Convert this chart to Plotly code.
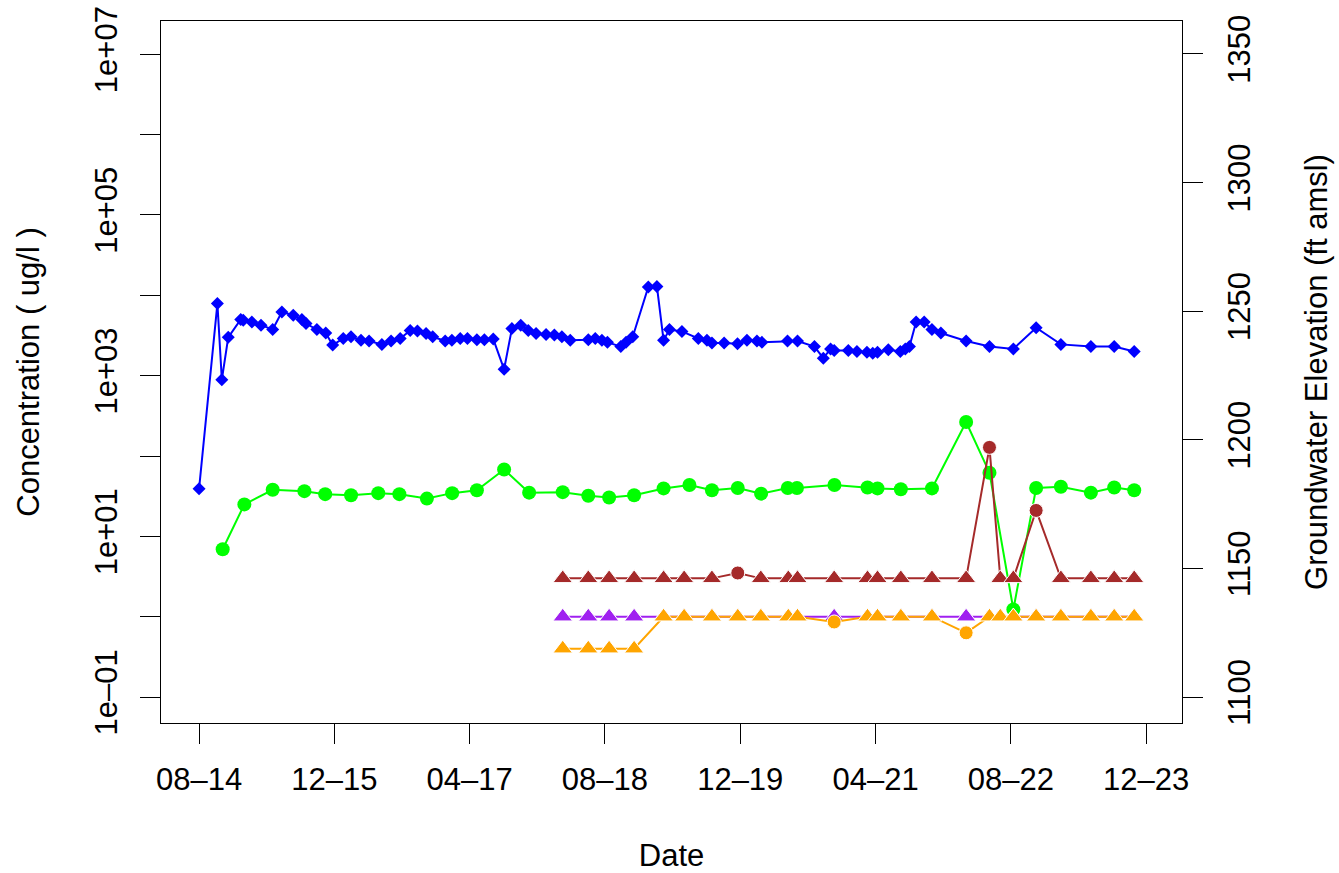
import plotly.graph_objects as go

# ---- sampling dates and concentrations (ug/l) ----
blue_dates = [
    "2014-08-01", "2014-10-06", "2014-10-22", "2014-11-14", "2014-12-29", "2015-01-07",
    "2015-02-07", "2015-03-12", "2015-04-23", "2015-05-26", "2015-07-06", "2015-08-06",
    "2015-08-21", "2015-09-29", "2015-10-31", "2015-11-25", "2016-01-02", "2016-01-30",
    "2016-03-06", "2016-04-04", "2016-05-20", "2016-06-22", "2016-07-25", "2016-08-30",
    "2016-09-25", "2016-10-26", "2016-11-19", "2017-01-03", "2017-01-27", "2017-02-26",
    "2017-03-24", "2017-04-27", "2017-05-24", "2017-06-25", "2017-08-03", "2017-08-31",
    "2017-10-02", "2017-10-29", "2017-11-26", "2018-01-01", "2018-01-31", "2018-02-27",
    "2018-03-29", "2018-06-02", "2018-06-27", "2018-07-21", "2018-08-10", "2018-09-27",
    "2018-10-16", "2018-11-09", "2019-01-04", "2019-02-04", "2019-02-28", "2019-03-21",
    "2019-05-05", "2019-07-03", "2019-08-03", "2019-08-21", "2019-10-04", "2019-11-21",
    "2019-12-25", "2020-01-30", "2020-02-17", "2020-05-19", "2020-06-24", "2020-08-24",
    "2020-09-25", "2020-10-21", "2020-11-03", "2020-12-24", "2021-01-24", "2021-03-01",
    "2021-03-22", "2021-04-08", "2021-05-17", "2021-06-29", "2021-07-17", "2021-08-01",
    "2021-08-25", "2021-09-23", "2021-10-21", "2021-11-22", "2022-02-21", "2022-05-16",
    "2022-08-10", "2022-10-31", "2023-01-28", "2023-05-16", "2023-08-08", "2023-10-19",
]
blue_values = [
    39, 7900, 890, 3000, 5000, 4900,
    4650, 4250, 3750, 6200, 5650, 5000,
    4450, 3750, 3400, 2400, 2900, 3050,
    2750, 2700, 2450, 2700, 2900, 3650,
    3600, 3350, 3050, 2700, 2750, 2900,
    2900, 2800, 2800, 2850, 1200, 3850,
    4250, 3650, 3350, 3250, 3200, 3050,
    2750, 2800, 2900, 2750, 2600, 2300,
    2600, 3050, 12700, 12900, 2750, 3750,
    3550, 2900, 2750, 2550, 2550, 2500,
    2750, 2700, 2600, 2700, 2700, 2300,
    1650, 2150, 2050, 2050, 2000, 1950,
    1900, 1950, 2100, 2000, 2150, 2300,
    4650, 4650, 3750, 3400, 2700, 2300,
    2150, 3950, 2450, 2300, 2300, 2000,
]

green_dates = [
    "2014-10-25", "2015-01-11", "2015-04-23", "2015-08-15", "2015-10-29", "2016-01-30",
    "2016-05-07", "2016-07-22", "2016-10-29", "2017-01-28", "2017-04-27", "2017-08-03",
    "2017-11-01", "2018-03-02", "2018-06-02", "2018-08-16", "2018-11-14", "2019-02-28",
    "2019-06-01", "2019-08-21", "2019-11-22", "2020-02-14", "2020-05-20", "2020-06-22",
    "2020-11-04", "2021-03-03", "2021-04-08", "2021-07-01", "2021-10-21", "2022-02-21",
    "2022-05-16", "2022-08-10", "2022-10-31", "2023-01-28", "2023-05-16", "2023-08-08",
    "2023-10-19",
]
green_values = [
    6.9, 25, 38, 36.5, 33.5, 32.5,
    34.5, 33.5, 29.5, 34.5, 37.5, 68,
    35, 35.5, 32, 30.5, 32.5, 39.5,
    43.5, 37.5, 40, 34, 40, 40,
    43.5, 40.5, 39.5, 38.5, 39.5, 265,
    62, 1.23, 40, 41.5, 35, 40.5,
    37.5,
]

# later constituents share one sampling schedule
late_dates = [
    "2018-03-02", "2018-06-02", "2018-08-16", "2018-11-14", "2019-02-28", "2019-05-13",
    "2019-08-21", "2019-11-22", "2020-02-13", "2020-05-22", "2020-06-24", "2020-11-03",
    "2021-03-03", "2021-04-08", "2021-07-01", "2021-10-21", "2022-02-21", "2022-05-16",
    "2022-06-24", "2022-08-10", "2022-10-31", "2023-01-28", "2023-05-16", "2023-08-08",
    "2023-10-19",
]
brown_values = [
    3, 3, 3, 3, 3, 3, 3, 3.5, 3, 3, 3, 3, 3,
    3, 3, 3, 3, 128, 3, 3, 21, 3, 3, 3, 3,
]
brown_detected = [
    False, False, False, False, False, False, False, True, False, False, False, False, False,
    False, False, False, False, True, False, False, True, False, False, False, False,
]
purple_values = [1.0] * 25
purple_detected = [False] * 25
orange_values = [
    0.4, 0.4, 0.4, 0.4, 1.0, 1.0, 1.0, 1.0, 1.0, 1.0, 1.0, 0.86, 1.0,
    1.0, 1.0, 1.0, 0.63, 1.0, 1.0, 1.0, 1.0, 1.0, 1.0, 1.0, 1.0,
]
orange_detected = [
    False, False, False, False, False, False, False, False, False, False, False, True, False,
    False, False, False, True, False, False, False, False, False, False, False, False,
]

# ---- axis ticks ----
x_tick_dates = ["2014-08-01", "2015-12-01", "2017-04-01", "2018-08-01",
                "2019-12-01", "2021-04-01", "2022-08-01", "2023-12-01"]
x_tick_text = ["08\u201314", "12\u201315", "04\u201317", "08\u201318",
               "12\u201319", "04\u201321", "08\u201322", "12\u201323"]
conc_ticks = [0.1, 1, 10, 100, 1e3, 1e4, 1e5, 1e6, 1e7]
conc_tick_text = ["1e\u201301", "", "1e+01", "", "1e+03", "", "1e+05", "", "1e+07"]
elev_ticks = [1100, 1150, 1200, 1250, 1300, 1350]
elev_tick_text = ["1100", "1150", "1200", "1250", "1300", "1350"]

FONT = "Liberation Sans, Arial, Helvetica, sans-serif"
FS = 31
INK = "#000000"

fig = go.Figure()

fig.add_trace(go.Scatter(
    x=blue_dates, y=blue_values, mode="lines+markers",
    line=dict(color="#0000FF", width=2),
    marker=dict(symbol="diamond", size=10, color="#0000FF", opacity=1),
    showlegend=False, hoverinfo="skip",
))
fig.add_trace(go.Scatter(
    x=green_dates, y=green_values, mode="lines+markers",
    line=dict(color="#00FF00", width=2),
    marker=dict(symbol="circle", size=14, color="#00FF00", opacity=1),
    showlegend=False, hoverinfo="skip",
))


def censored_trace(dates, values, detected, color):
    # detections as filled circles, non-detects as filled triangles
    symbols = ["circle" if d else "triangle-up" for d in detected]
    sizes = [14 if d else 17 for d in detected]
    return go.Scatter(
        x=dates, y=values, mode="lines+markers",
        line=dict(color=color, width=2),
        marker=dict(symbol=symbols, size=sizes, color=color, opacity=1),
        showlegend=False, hoverinfo="skip",
    )


fig.add_trace(censored_trace(late_dates, brown_values, brown_detected, "#A52A2A"))
fig.add_trace(censored_trace(late_dates, purple_values, purple_detected, "#A020F0"))
fig.add_trace(censored_trace(late_dates, orange_values, orange_detected, "#FFA500"))

# secondary axis carrier (elevation scale)
fig.add_trace(go.Scatter(x=[], y=[], yaxis="y2", showlegend=False, hoverinfo="skip"))

fig.update_layout(
    width=1339, height=873,
    margin=dict(l=161, r=157, t=21, b=150),
    paper_bgcolor="white", plot_bgcolor="white",
    font=dict(family=FONT, size=FS, color=INK),
    xaxis=dict(
        type="date", range=["2014-03-17", "2024-04-08"],
        tickmode="array", tickvals=x_tick_dates, ticktext=x_tick_text,
        ticks="outside", ticklen=20, tickwidth=1.3, tickcolor=INK,
        ticklabelstandoff=9, automargin=False,
        showline=True, linecolor=INK, linewidth=1.3, mirror=True,
        showgrid=False, zeroline=False,
        tickfont=dict(size=FS),
        title=dict(text="Date", font=dict(size=FS), standoff=50),
    ),
    yaxis=dict(
        type="log", range=[-1.323, 7.414],
        tickmode="array", tickvals=conc_ticks, ticktext=conc_tick_text,
        tickangle=-90,
        ticks="outside", ticklen=20, tickwidth=1.3, tickcolor=INK,
        ticklabelstandoff=10, automargin=False,
        showline=True, linecolor=INK, linewidth=1.3, mirror=True,
        showgrid=False, zeroline=False,
        tickfont=dict(size=FS),
        title=dict(text="Concentration ( ug/l )", font=dict(size=FS), standoff=40),
    ),
    yaxis2=dict(
        overlaying="y", side="right", range=[1089.9, 1362.8],
        tickmode="array", tickvals=elev_ticks, ticktext=elev_tick_text,
        tickangle=-90,
        ticks="outside", ticklen=20, tickwidth=1.3, tickcolor=INK,
        ticklabelstandoff=10, automargin=False,
        showline=True, linecolor=INK, linewidth=1.3,
        showgrid=False, zeroline=False,
        tickfont=dict(size=FS),
        title=dict(text="Groundwater Elevation (ft amsl)", font=dict(size=FS), standoff=48),
    ),
)

fig.write_html("out.html")
